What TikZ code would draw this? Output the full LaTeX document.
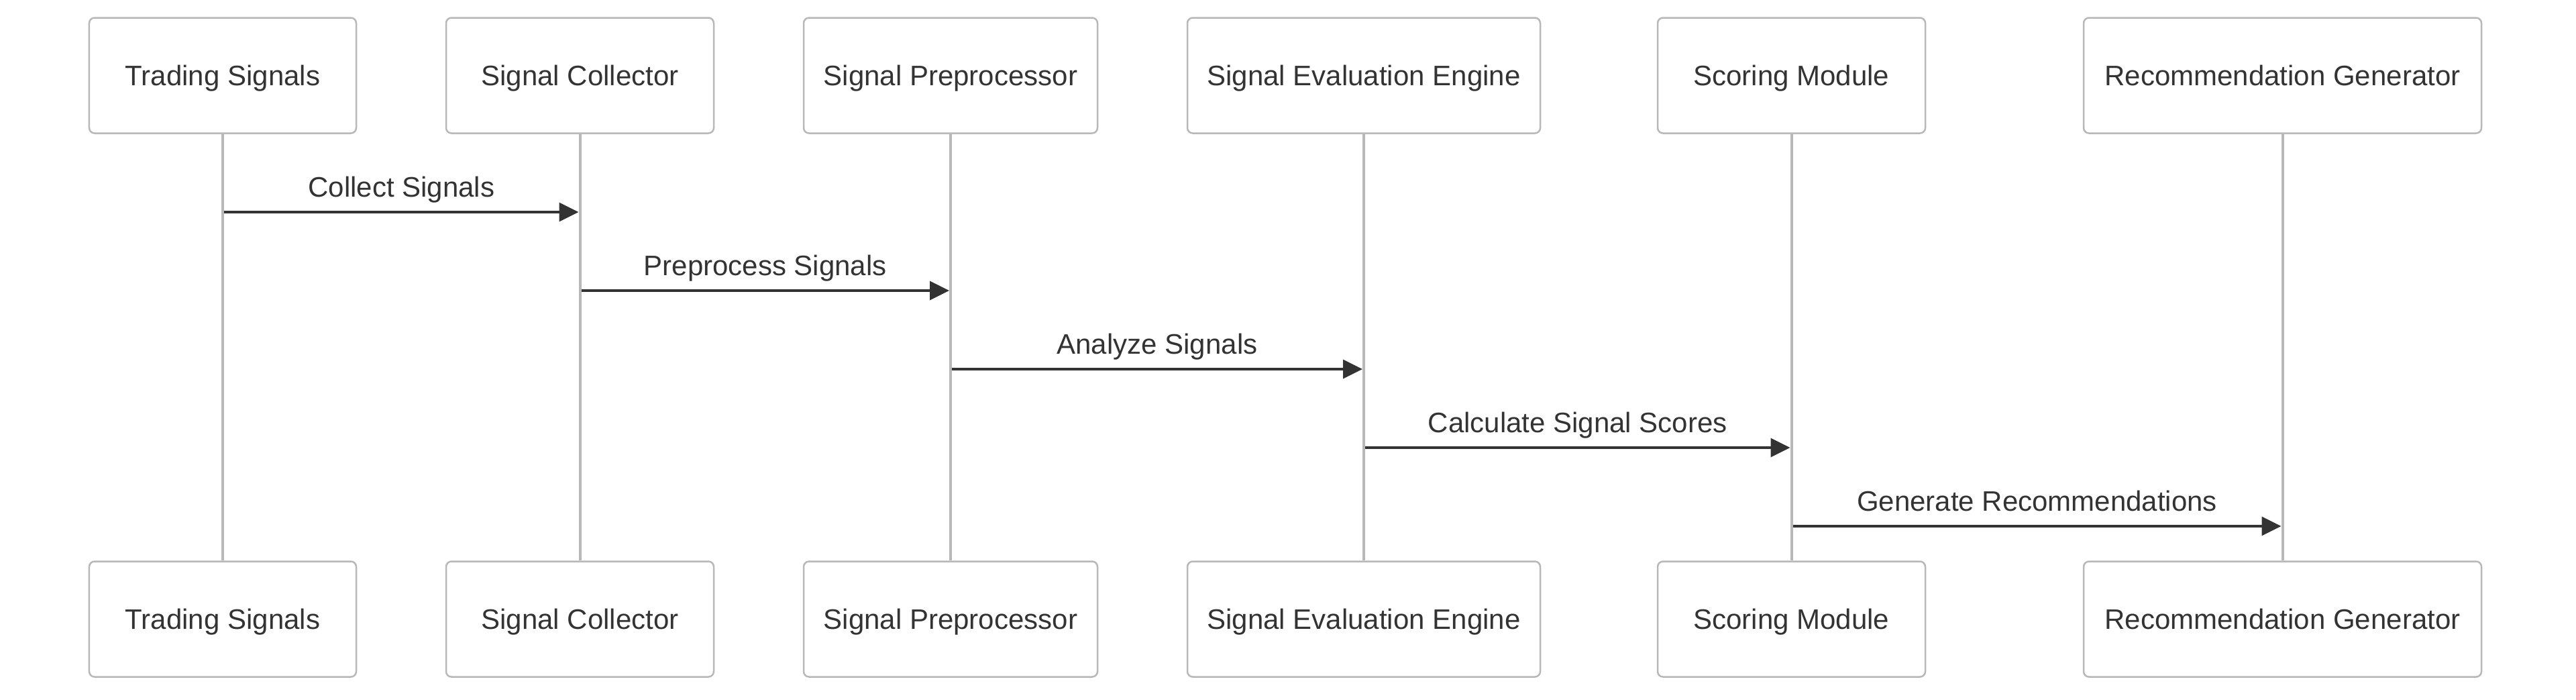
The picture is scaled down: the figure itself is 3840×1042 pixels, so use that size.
\documentclass[tikz,border=0pt]{standalone}
\usepackage{fontspec}
\setmainfont{Liberation Sans}
\usetikzlibrary{arrows.meta}
\definecolor{txt}{HTML}{333333}
\definecolor{boxline}{HTML}{B8B8B8}
\definecolor{lifeline}{HTML}{B8B8B8}
\definecolor{arrowc}{HTML}{333333}
\begin{document}
\begin{tikzpicture}[x=0.2pt,y=-0.2pt,
  actor/.style={draw=boxline,line width=0.5pt,fill=white,rounded corners=1.6pt,
    minimum height=34.4pt,inner sep=0pt,text=txt,font=\fontsize{8.4pt}{10pt}\selectfont,
    text height=6.0pt,text depth=0pt,anchor=center},
  life/.style={draw=lifeline,line width=0.8pt},
  msg/.style={draw=arrowc,line width=0.66pt,-{Triangle[length=5.8pt,width=5.6pt]},
    shorten >=0.4pt,shorten <=0.4pt},
  lbl/.style={text=txt,font=\fontsize{8.4pt}{10pt}\selectfont,anchor=base,inner sep=0pt,yshift=4.6pt}]
\useasboundingbox[fill=white] (0,0) rectangle (3840,1042);
% top actors
\node[actor,minimum width=79.6pt]  (t1) at (332,112.5)  {Trading Signals};
\node[actor,minimum width=79.8pt]  (t2) at (864.5,112.5)  {Signal Collector};
\node[actor,minimum width=87.6pt]  (t3) at (1417,112.5) {Signal Preprocessor};
\node[actor,minimum width=105.2pt] (t4) at (2033,112.5) {Signal Evaluation Engine};
\node[actor,minimum width=79.8pt]  (t5) at (2670.5,112.5) {Scoring Module};
\node[actor,minimum width=118.6pt] (t6) at (3402.5,112.5) {Recommendation Generator};
% bottom actors
\node[actor,minimum width=79.6pt]  (b1) at (332,922.5)  {Trading Signals};
\node[actor,minimum width=79.8pt]  (b2) at (864.5,922.5)  {Signal Collector};
\node[actor,minimum width=87.6pt]  (b3) at (1417,922.5) {Signal Preprocessor};
\node[actor,minimum width=105.2pt] (b4) at (2033,922.5) {Signal Evaluation Engine};
\node[actor,minimum width=79.8pt]  (b5) at (2670.5,922.5) {Scoring Module};
\node[actor,minimum width=118.6pt] (b6) at (3402.5,922.5) {Recommendation Generator};
% lifelines
\foreach \i in {1,...,6} {\draw[life] (t\i.south) -- (b\i.north);}
% message rows
\coordinate (y1) at (0,316);
\coordinate (y2) at (0,433);
\coordinate (y3) at (0,550);
\coordinate (y4) at (0,667);
\coordinate (y5) at (0,784);
% messages
\draw[msg] (t1.south |- y1) -- node[lbl] (m1) {Collect Signals} (t2.south |- y1);
\draw[msg] (t2.south |- y2) -- node[lbl] (m2) {Preprocess Signals} (t3.south |- y2);
\draw[msg] (t3.south |- y3) -- node[lbl] (m3) {Analyze Signals} (t4.south |- y3);
\draw[msg] (t4.south |- y4) -- node[lbl] (m4) {Calculate Signal Scores} (t5.south |- y4);
\draw[msg] (t5.south |- y5) -- node[lbl] (m5) {Generate Recommendations} (t6.south |- y5);
\end{tikzpicture}
\end{document}
